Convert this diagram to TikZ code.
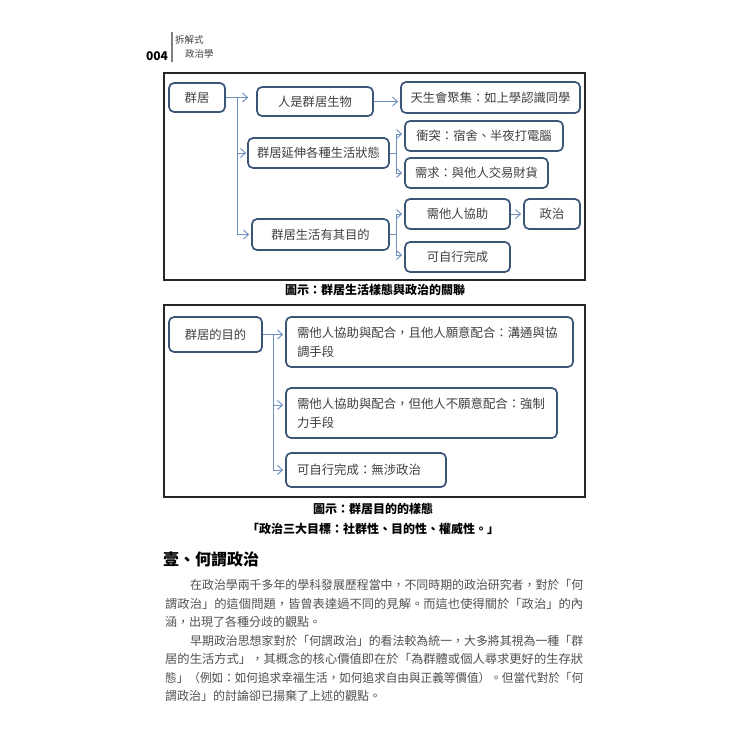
\documentclass[tikz,border=0pt]{standalone}
\usepackage{fontspec}
\usepackage{graphicx}
\setmainfont{Noto Sans CJK TC}
\usetikzlibrary{arrows.meta}
\definecolor{boxc}{HTML}{3A5576}
\definecolor{connc}{HTML}{6F8FBF}
\definecolor{txtc}{HTML}{404040}
\definecolor{bodyc}{HTML}{505050}
\newsavebox\flbox
\newcommand{\fitline}[2]{\sbox\flbox{#2}\pgfmathsetmacro\fitr{#1/\the\wd\flbox}\scalebox{\fitr}[1]{\usebox\flbox}}
\begin{document}
\begin{tikzpicture}[x=1pt,y=-1pt,
  dbox/.style={draw=boxc, line width=1.7pt, rounded corners=5pt, fill=white, inner sep=0pt,
    font=\fontsize{12.3}{14}\selectfont, text=txtc},
  lbox/.style={dbox, align=left, anchor=center, font=\fontsize{12.4}{19}\selectfont},
  conn/.style={draw=connc, line width=0.9pt, -{Straight Barb[length=5pt,width=9pt]}},
  captxt/.style={font=\fontsize{12}{14}\selectfont\bfseries, text=black, inner sep=0pt},
  bodytxt/.style={anchor=west, inner sep=0pt, text=bodyc, font=\fontsize{12}{14}\selectfont},
  figframe/.style={draw=black!85, line width=1.4pt}]
\useasboundingbox (0,0) rectangle (750,750);
\fill[white] (0,0) rectangle (750,750);

% header
\node[font=\fontsize{12}{14}\selectfont\bfseries, inner sep=0pt] (pg) at (157,56) {004};
\draw[gray, line width=1.5pt] (172,32) -- (172,62);
\node[anchor=west, inner sep=0pt, font=\fontsize{9.5}{10}\selectfont, text=black!75] (h1) at (175,40) {拆解式};
\node[anchor=west, inner sep=0pt, font=\fontsize{9.5}{10}\selectfont, text=black!75] (h2) at (185,54) {政治學};

% figure 1
\draw[figframe] (164,73) rectangle (585,280);
\node[dbox, minimum width=56pt, minimum height=29pt] (qj) at (197,97.5) {群居};
\node[dbox, minimum width=116pt, minimum height=29pt] (rs) at (315,101.5) {人是群居生物};
\node[dbox, minimum width=179pt, minimum height=31pt] (ts) at (490.5,97.5) {天生會聚集：如上學認識同學};
\node[dbox, minimum width=158pt, minimum height=30pt] (ct) at (484,136) {衝突：宿舍、半夜打電腦};
\node[dbox, minimum width=141pt, minimum height=30pt] (yy) at (318.5,153) {群居延伸各種生活狀態};
\node[dbox, minimum width=143pt, minimum height=30pt] (xq) at (476.5,173) {需求：與他人交易財貨};
\node[dbox, minimum width=105pt, minimum height=30pt] (xz) at (457.5,214) {需他人協助};
\node[dbox, minimum width=56pt, minimum height=30pt] (zz) at (552,214) {政治};
\node[dbox, minimum width=137pt, minimum height=31pt] (md) at (320.5,234.5) {群居生活有其目的};
\node[dbox, minimum width=105pt, minimum height=30pt] (kz) at (457.5,257) {可自行完成};

\draw[conn, shorten >=8pt] (qj.east) -- (qj.east -| rs.west);
\draw[conn, shorten >=1pt] (qj.east) -- ++(12,0) |- (yy.west);
\draw[conn, shorten >=2pt] (qj.east) -- ++(12,0) |- (md.west);
\draw[conn, shorten >=2pt] (rs.east) -- (rs.east -| ts.west);
\draw[conn, shorten >=2pt] (yy.east) -- ++(7,0) |- ([yshift=2pt]ct.west);
\draw[conn, shorten >=2pt] (yy.east) -- ++(7,0) |- (xq.west);
\draw[conn, shorten >=2pt] (md.east) -- ++(7,0) |- (xz.west);
\draw[conn, shorten >=2pt] (md.east) -- ++(7,0) |- ([yshift=2pt]kz.west);
\draw[conn, shorten >=2pt] (xz.east) -- (zz.west);

\node[captxt] (c1) at (375,290) {圖示：群居生活樣態與政治的關聯};

% figure 2
\draw[figframe] (164,305) rectangle (585,497);
\node[dbox, minimum width=93pt, minimum height=35pt] (gd) at (215.5,334.5) {群居的目的};
\node[lbox, minimum width=287pt, minimum height=50pt, text width=265pt] (ga) at (429.5,342) {需他人協助與配合，且他人願意配合：溝通與協\\調手段};
\node[lbox, minimum width=271pt, minimum height=50pt, text width=249pt] (gb) at (421.5,413) {需他人協助與配合，但他人不願意配合：強制\\力手段};
\node[lbox, minimum width=160pt, minimum height=34pt, text width=138pt] (gc) at (366,470) {可自行完成：無涉政治};

\draw[conn, shorten >=2pt] (gd.east) -- (gd.east -| ga.west);
\draw[conn, shorten >=2pt] (gd.east) -- ++(11,0) |- ([yshift=8pt]gb.west);
\draw[conn, shorten >=2pt] (gd.east) -- ++(11,0) |- (gc.west);

\node[captxt] (c2) at (373,509) {圖示：群居目的的樣態};
\node[captxt] (c3) at (373,529) {「政治三大目標：社群性、目的性、權威性。」};

% section text
\node[anchor=west, inner sep=0pt, font=\fontsize{16}{18}\selectfont\bfseries] (hd) at (163,559) {壹、何謂政治};
\node[bodytxt] (l1) at (190,585) {\fitline{393}{在政治學兩千多年的學科發展歷程當中，不同時期的政治研究者，對於「何}};
\node[bodytxt] (l2) at (165,603.5) {\fitline{418}{謂政治」的這個問題，皆曾表達過不同的見解。而這也使得關於「政治」的內}};
\node[bodytxt] (l3) at (165,622) {涵，出現了各種分歧的觀點。};
\node[bodytxt] (l4) at (190,640.5) {\fitline{393}{早期政治思想家對於「何謂政治」的看法較為統一，大多將其視為一種「群}};
\node[bodytxt] (l5) at (165,659) {\fitline{418}{居的生活方式」，其概念的核心價值即在於「為群體或個人尋求更好的生存狀}};
\node[bodytxt] (l6) at (165,677.5) {\fitline{418}{態」（例如：如何追求幸福生活，如何追求自由與正義等價值）。但當代對於「何}};
\node[bodytxt] (l7) at (165,696) {謂政治」的討論卻已揚棄了上述的觀點。};
\end{tikzpicture}
\end{document}
